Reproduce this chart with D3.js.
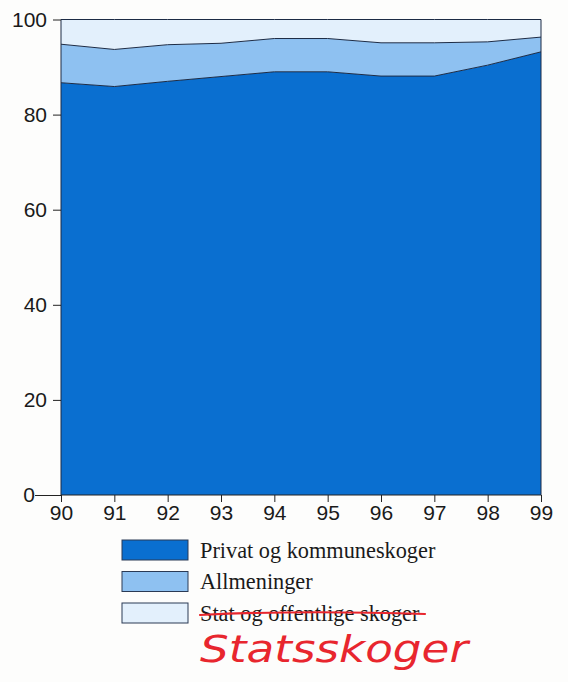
<!DOCTYPE html>
<html><head><meta charset="utf-8">
<script src="https://cdn.jsdelivr.net/npm/d3@7"></script>
<style>html,body{margin:0;padding:0;background:#fdfdfc;}svg{display:block;}</style>
</head><body>
<svg id="c" width="568" height="682"></svg>
<script>
const years = ["90","91","92","93","94","95","96","97","98","99"];
const privat = [86.7, 85.9, 87.0, 88.0, 89.0, 89.0, 88.1, 88.1, 90.4, 93.2];
const allmeninger = [8.1, 7.8, 7.7, 7.0, 7.0, 7.0, 7.0, 7.0, 4.9, 3.1];
const stat = [5.2, 6.3, 5.3, 5.0, 4.0, 4.0, 4.9, 4.9, 4.7, 3.7];
const yTicks = [0, 20, 40, 60, 80, 100];
const seriesNames = ["Privat og kommuneskoger", "Allmeninger", "Stat og offentlige skoger"];
const handNote = "Statsskoger";
const colors = ["#0a6fd0", "#8ec1f1", "#e3f0fc"];

const svg = d3.select("#c");
const m = {l: 61, r: 541, t: 19.5, b: 495};
const x = d3.scalePoint().domain(years).range([m.l, m.r]);
const y = d3.scaleLinear().domain([0, 100]).range([m.b, m.t]);

const rows = years.map((yr, i) => ({year: yr, p: privat[i], a: allmeninger[i], s: stat[i]}));
const stack = d3.stack().keys(["p", "a", "s"]);
const layers = stack(rows);

const area = d3.area().x(d => x(d.data.year)).y0(d => y(d[0])).y1(d => y(d[1]));
const line = d3.line().x(d => x(d.data.year)).y(d => y(d[1]));

svg.append("g").selectAll("path").data(layers).join("path")
  .attr("d", area).attr("fill", (d, i) => colors[i]);
svg.append("g").selectAll("path").data(layers).join("path")
  .attr("d", line).attr("fill", "none").attr("stroke", "#1c2b45").attr("stroke-width", 1);

// edges
svg.append("line").attr("x1", m.l).attr("x2", m.l).attr("y1", y(100)).attr("y2", y(0)).attr("stroke", "#1c2b45");
svg.append("line").attr("x1", m.r).attr("x2", m.r).attr("y1", y(100)).attr("y2", y(0)).attr("stroke", "#1c2b45");

// y axis
const yAx = svg.append("g").attr("transform", `translate(${m.l},0)`)
  .call(d3.axisLeft(y).tickValues(yTicks).tickSize(8).tickPadding(6).tickFormat(d3.format("d")));
yAx.select(".domain").remove();
yAx.selectAll(".tick line").attr("stroke", "#222");
yAx.selectAll(".tick").filter(d => d === 0).select("line").attr("x2", -26);
yAx.selectAll(".tick").filter(d => d === 0).select("text").attr("x", -26);
yAx.selectAll("text").attr("font-family", "Liberation Sans, Arial, sans-serif").attr("font-size", 21).attr("fill", "#1a1a1a");

// x axis
const xAx = svg.append("g").attr("transform", `translate(0,${m.b})`)
  .call(d3.axisBottom(x).tickSize(7).tickPadding(3));
xAx.select(".domain").attr("stroke", "#222").attr("d", `M${m.l},0H${m.r}`);
xAx.selectAll(".tick line").attr("stroke", "#222");
xAx.selectAll("text").attr("font-family", "Liberation Sans, Arial, sans-serif").attr("font-size", 21).attr("fill", "#1a1a1a");

// legend
const lg = svg.append("g");
seriesNames.forEach((name, i) => {
  const yy = 540 + i * 31.5;
  lg.append("rect").attr("x", 122).attr("y", yy).attr("width", 66).attr("height", 20)
    .attr("fill", colors[i]).attr("stroke", "#2a3a55").attr("stroke-width", 1);
  lg.append("text").attr("x", 200).attr("y", yy + 17.5).text(name)
    .attr("font-family", "Liberation Serif, Times New Roman, serif").attr("font-size", 22.3).attr("fill", "#1a1a1a");
});
// red strike-through
svg.append("path").attr("d", "M200,615 C260,612 330,611 425,614")
  .attr("fill", "none").attr("stroke", "#e8262e").attr("stroke-width", 2.2).attr("stroke-linecap", "round");
// handwritten note
svg.append("text").attr("x", 200).attr("y", 662).text(handNote)
  .attr("font-family", "DejaVu Sans, sans-serif").attr("font-style", "italic").attr("font-weight", 200)
  .attr("font-size", 38).attr("fill", "#e8262e")
  .attr("textLength", 268).attr("lengthAdjust", "spacingAndGlyphs");
</script>
</body></html>
